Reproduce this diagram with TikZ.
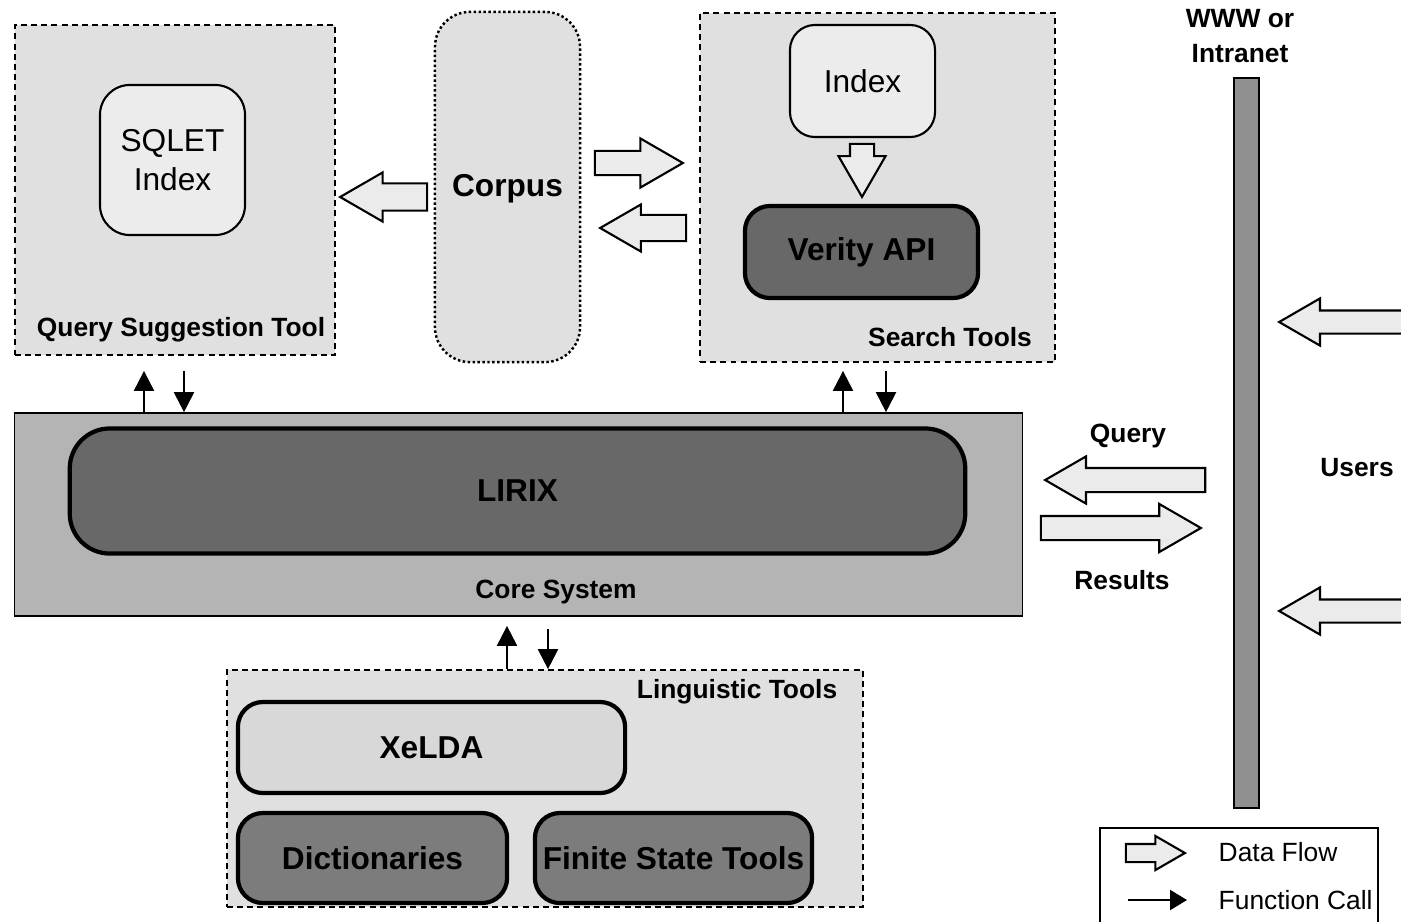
\documentclass[tikz,border=0pt]{standalone}
\usepackage{fontspec}
\setmainfont{Liberation Sans}
\usetikzlibrary{shapes.arrows,arrows.meta}
\definecolor{toolgray}{HTML}{E0E0E0}
\definecolor{indexgray}{HTML}{ECECEC}
\definecolor{coregray}{HTML}{B4B4B4}
\definecolor{darkgray}{HTML}{686868}
\definecolor{midgray}{HTML}{7C7C7C}
\definecolor{xeldagray}{HTML}{D8D8D8}
\definecolor{flowgray}{HTML}{EBEBEB}
\newcommand{\bigfont}{\fontsize{9}{11}\selectfont}
\newcommand{\smallfont}{\fontsize{7.5}{9}\selectfont}
\begin{document}
\begin{tikzpicture}
                [x=0.01cm, y=-0.01cm,
                toolbox/.style={draw=black, fill=toolgray, line width=0.45pt, dash pattern=on 1.7pt off 1.2pt, inner sep=0pt},
                indexnode/.style={draw=black, fill=indexgray, line width=0.6pt, rounded corners=0.3cm, inner sep=0pt, align=center, font=\bigfont},
                corpusnode/.style={draw=black, fill=toolgray, line width=0.7pt, dash pattern=on 0.7pt off 0.7pt, rounded corners=0.35cm, inner sep=0pt, font=\bigfont\bfseries},
                apinode/.style={draw=black, fill=darkgray, line width=1.2pt, rounded corners=0.25cm, inner sep=0pt, font=\bigfont\bfseries},
                lingnode/.style={draw=black, fill=midgray, line width=1.2pt, rounded corners=0.25cm, inner sep=0pt, font=\bigfont\bfseries},
                corebox/.style={draw=black, fill=coregray, line width=0.45pt, inner sep=0pt},
                smalllabel/.style={inner sep=0pt, font=\smallfont\bfseries, align=center},
                flow/.style={single arrow, draw=black, fill=flowgray, line width=0.6pt, inner xsep=0pt, anchor=tip, single arrow tip angle=60},
                call/.style={line width=0.6pt, -{Triangle[length=0.2cm, width=0.2cm]}}]

                \useasboundingbox (0,0) rectangle (1401,921);

                \node[toolbox, minimum width=3.2cm, minimum height=3.3cm] (qst) at (175,190) {};
                \node[indexnode, minimum width=1.45cm, minimum height=1.5cm] (sqlet) at (172.5,160) {SQLET\\Index};
                \node[smalllabel] (qstlabel) at (181,330) {Query Suggestion Tool};

                \node[corpusnode, minimum width=1.45cm, minimum height=3.5cm] (corpus) at (507.5,187) {};
                \node[inner sep=0pt, font=\bigfont\bfseries] (corpuslabel) at (507.5,189) {Corpus};

                \node[toolbox, minimum width=3.55cm, minimum height=3.49cm] (search) at (877.5,187.5) {};
                \node[indexnode, rounded corners=0.25cm, minimum width=1.45cm, minimum height=1.12cm] (index) at (862.5,81) {Index};
                \node[apinode, minimum width=2.33cm, minimum height=0.92cm] (verity) at (861.5,252) {Verity API};
                \node[smalllabel] (searchlabel) at (950,337) {Search Tools};

                \node[corebox, minimum width=10.07cm, minimum height=2.03cm] (core) at (518.5,514.5) {};
                \node[apinode, rounded corners=0.4cm, minimum width=8.95cm, minimum height=1.25cm] (lirix) at (517.5,491) {LIRIX};
                \node[smalllabel] (corelabel) at (556,592) {Core System};

                \node[toolbox, minimum width=6.36cm, minimum height=2.37cm] (ling) at (545,788.5) {};
                \node[lingnode, fill=xeldagray, minimum width=3.87cm, minimum height=0.91cm] (xelda) at (431.5,747.5) {XeLDA};
                \node[lingnode, minimum width=2.69cm, minimum height=0.9cm] (dict) at (372.5,858) {Dictionaries};
                \node[lingnode, minimum width=2.77cm, minimum height=0.9cm] (fst) at (673.5,858) {Finite State Tools};
                \node[smalllabel] (linglabel) at (737,692) {Linguistic Tools};

                \node[draw=black, fill=midgray!85!white, line width=0.6pt, inner sep=0pt, minimum width=0.25cm, minimum height=7.3cm] (www) at (1246.5,443) {};
                \node[smalllabel] (wwwlabel) at (1240,36) {WWW or\\[1pt]Intranet};
                \node[smalllabel] (users) at (1357,468) {Users};
                \node[smalllabel] (querylabel) at (1128,436) {Query};
                \node[smalllabel] (resultslabel) at (1122,580) {Results};

                \node[flow, shape border rotate=180, minimum height=0.87cm, inner ysep=0.125cm, single arrow head extend=0.11cm] (corpus-sqlet) at (338,197) {};
                \node[flow, minimum height=0.88cm, inner ysep=0.11cm, single arrow head extend=0.125cm] (corpus-search) at (685,163) {};
                \node[flow, shape border rotate=180, minimum height=0.86cm, inner ysep=0.12cm, single arrow head extend=0.105cm] (search-corpus) at (598,228) {};
                \node[flow, shape border rotate=270, minimum height=0.53cm, inner ysep=0pt, inner xsep=0.11cm, single arrow head extend=0.115cm] (index-verity) at (862,199) {};
                \node[flow, shape border rotate=180, minimum height=1.6cm, inner ysep=0.11cm, single arrow head extend=0.115cm] (query) at (1043,480) {};
                \node[flow, minimum height=1.6cm, inner ysep=0.11cm, single arrow head extend=0.12cm] (results) at (1203,528) {};
                \node[flow, shape border rotate=180, minimum height=1.63cm, inner ysep=0.105cm, single arrow head extend=0.12cm] (users-query) at (1277,322) {};
                \node[flow, shape border rotate=180, minimum height=1.63cm, inner ysep=0.105cm, single arrow head extend=0.12cm] (users-results) at (1277,611) {};

                \draw[call, shorten >=0.15cm] (core.north -| 144,0) -- (qst.south -| 144,0);
                \draw[call, shorten <=0.15cm] (qst.south -| 184,0) -- (core.north -| 184,0);
                \draw[call, shorten >=0.08cm] (core.north -| 843,0) -- (search.south -| 843,0);
                \draw[call, shorten <=0.08cm] (search.south -| 886,0) -- (core.north -| 886,0);
                \draw[call, shorten >=0.09cm] (ling.north -| 507,0) -- (core.south -| 507,0);
                \draw[call, shorten <=0.12cm] (core.south -| 548,0) -- (ling.north -| 548,0);

                \node[draw=black, fill=white, line width=0.6pt, inner sep=0pt, minimum width=2.78cm, minimum height=0.97cm] (legend) at (1239,876.5) {};
                \node[flow, minimum height=0.59cm, inner ysep=0.08cm, single arrow head extend=0.08cm] (legendflow) at (1187,853) {};
                \coordinate (callstart) at (1128,900);
                \coordinate (callend) at (1187,900);
                \draw[line width=0.6pt, -{Triangle[length=0.17cm, width=0.2cm]}] (callstart) -- (callend);
                \node[anchor=west, inner sep=0pt, font=\smallfont] (flowtext) at (1218,852) {Data Flow};
                \node[anchor=west, inner sep=0pt, font=\smallfont] (calltext) at (1218,900) {Function Call};

            \end{tikzpicture}
\end{document}
